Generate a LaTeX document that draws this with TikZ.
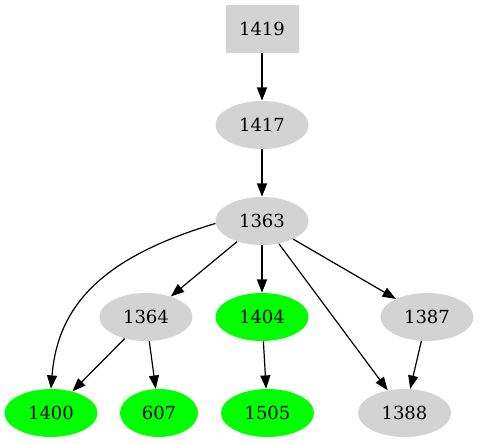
\documentclass[tikz,border=0pt]{standalone}
\usepackage{fontspec}
\setmainfont{DejaVu Serif}
\usetikzlibrary{arrows.meta,shapes.geometric}
\definecolor{lgray}{HTML}{D3D3D3}
\definecolor{gvgreen}{HTML}{00FF00}
\begin{document}
\begin{tikzpicture}[x=0.75pt,y=-0.75pt,
  el/.style={ellipse,fill=lgray,minimum width=69.75pt,minimum height=36pt,inner sep=0pt,font=\fontsize{13.5pt}{16pt}\selectfont},
  gr/.style={el,fill=gvgreen},
  bx/.style={rectangle,fill=lgray,minimum width=54.75pt,minimum height=36pt,inner sep=0pt,font=\fontsize{13.5pt}{16pt}\selectfont},
  edge/.style={draw=black,line width=0.9pt,-{Triangle[length=10pt,width=7.5pt]}}]
\useasboundingbox (0,0) rectangle (479,443);
\node[bx] (n1419) at (262,29) {1419};
\node[el] (n1417) at (262,125) {1417};
\node[el] (n1363) at (262,221) {1363};
\node[el] (n1364) at (146,317) {1364};
\node[gr] (n1404) at (262,317) {1404};
\node[el] (n1387) at (427,317) {1387};
\node[gr] (n1400) at (51,413) {1400};
\node[gr,minimum width=58.5pt] (n607) at (159,413) {607};
\node[gr] (n1505) at (267.5,413) {1505};
\node[el] (n1388) at (404.5,413) {1388};
\draw[edge] (n1419) -- (n1417);
\draw[edge] (n1417) -- (n1363);
\draw[edge] (n1363.183) .. controls (110,255) and (58,300) .. (n1400.north);
\draw[edge] (n1363) -- (n1364);
\draw[edge] (n1363) -- (n1404);
\draw[edge] (n1363) -- (n1388);
\draw[edge] (n1363) -- (n1387);
\draw[edge] (n1364) -- (n1400);
\draw[edge] (n1364) -- (n607);
\draw[edge] (n1404) -- (n1505);
\draw[edge] (n1387) -- (n1388);
\end{tikzpicture}
\end{document}
